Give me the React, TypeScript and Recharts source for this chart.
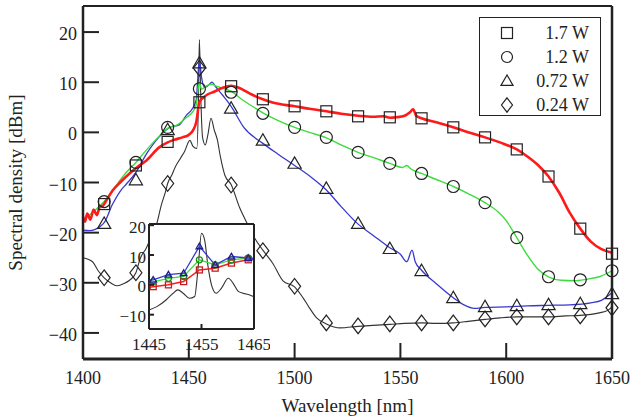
import {
  ComposedChart,
  Line,
  Scatter,
  XAxis,
  YAxis,
  Legend,
  CartesianGrid,
} from 'recharts'

const FONT = '"Liberation Serif", "Times New Roman", Times, serif'
const INK = '#222'

// colours of the four pump powers
const RED = '#ff1a1a'
const GREEN = '#3ddc3d'
const BLUE = '#3838d0'
const BLACK = '#333'

const seriesNames = ['1.7 W', '1.2 W', '0.72 W', '0.24 W']

// ---- main axes
const wlTicks = [1400, 1450, 1500, 1550, 1600, 1650]
const dbmTicks = [-40, -30, -20, -10, 0, 10, 20]

// ---- spectra (wavelength nm / spectral density dBm)
const redWl = [1400, 1401, 1402, 1403.5, 1405, 1406.5, 1408, 1409.5, 1411, 1414, 1418, 1422, 1426, 1430, 1436, 1440, 1443, 1447, 1450, 1452, 1453.5, 1455, 1457, 1459, 1462, 1466, 1470, 1473, 1476, 1480, 1485, 1490, 1495, 1500, 1507, 1515, 1522, 1530, 1537, 1542, 1545, 1548, 1552, 1554.5, 1556, 1557.5, 1560, 1567, 1575, 1582, 1590, 1597, 1605, 1610, 1615, 1620, 1625, 1630, 1635, 1640, 1645, 1650]
const redDbm = [-16.8, -17.8, -16.2, -17.4, -15.4, -16.5, -14.8, -14.6, -13.6, -11.6, -9.8, -8.2, -6.8, -5.6, -3, -2, -1.5, -1, -0.5, 0.4, 2, 6, 7, 7.6, 8.1, 8.9, 9.3, 9, 8.4, 7.5, 6.6, 5.9, 5.5, 5.2, 4.7, 4.2, 3.7, 3.3, 3.1, 3.2, 2.9, 3, 3.3, 4, 4.6, 3.3, 2.8, 2, 1, 0, -1, -2, -3.4, -4.8, -6.5, -8.8, -12, -16, -19.2, -21.8, -23.3, -24]

const greenWl = [1400, 1405, 1410, 1415, 1420, 1425, 1430, 1435, 1440, 1445, 1449, 1452, 1453.5, 1455, 1456, 1457.5, 1459, 1461, 1463, 1466, 1470, 1475, 1480, 1485, 1492, 1500, 1507, 1515, 1522, 1530, 1537, 1545, 1551, 1553, 1555, 1560, 1567, 1575, 1582, 1590, 1596, 1600, 1605, 1610, 1615, 1620, 1626, 1632, 1638, 1644, 1650]
const greenDbm = [-17.5, -15.8, -13.8, -11, -8.2, -6, -3.5, -1.2, 0.8, 1.6, 3, 4.2, 5.5, 10, 8.6, 9, 9.4, 9.6, 9.2, 8.8, 8.2, 6.6, 5.2, 3.9, 2.4, 1, 0, -1.1, -2.5, -4, -5, -6.2, -7, -6.6, -7.3, -8.2, -9.4, -10.8, -12.2, -14, -15.8, -17.6, -21, -24.5, -27.3, -28.8, -29.5, -29.6, -29.3, -28.8, -27.6]

const blueWl = [1400, 1403, 1405.5, 1408, 1410, 1414, 1418, 1420.5, 1425, 1430, 1436, 1441, 1445.5, 1449, 1451.5, 1453.5, 1455, 1456, 1457.5, 1459, 1461, 1462.5, 1466, 1470, 1476, 1485, 1492, 1500, 1508, 1515, 1522, 1530, 1537, 1545, 1550, 1553, 1555.5, 1557, 1560, 1567, 1575, 1580, 1585, 1590, 1600, 1610, 1620, 1630, 1640, 1645, 1650]
const blueDbm = [-19.5, -19.6, -19.4, -18.8, -18, -14.3, -11.5, -10.3, -8, -4.3, -0.9, 1, 1.5, 3.5, 4.6, 6.5, 14.5, 11, 9, 9.3, 10, 9.2, 7.4, 5.2, 1, -2.2, -4.3, -6.6, -9, -11.5, -14.8, -18.3, -20.5, -23, -24.3, -25.8, -23.5, -25.8, -27.5, -30.2, -33, -34.4, -35.1, -34.9, -34.8, -34.6, -34.5, -34.4, -34, -33.5, -32]

const blackWl = [1400, 1404.5, 1407, 1410, 1413, 1416, 1419, 1422, 1425, 1427, 1430, 1432.5, 1435, 1437, 1439, 1440, 1442, 1443.5, 1446, 1448, 1450.5, 1452, 1453.8, 1454.5, 1455, 1455.6, 1456.5, 1457.8, 1459, 1460.5, 1462, 1463.5, 1465, 1467, 1470, 1474, 1478, 1481.3, 1485, 1489.8, 1494.5, 1500, 1504, 1507, 1510.4, 1515, 1521.5, 1530, 1537, 1545, 1552, 1560, 1567, 1575, 1582, 1590, 1597, 1605, 1612, 1620, 1628, 1635, 1644, 1648, 1650]
const blackDbm = [-25, -25.8, -27.5, -29, -30, -30.6, -30.2, -29.5, -28, -25.2, -23, -20.5, -18, -14.5, -11.8, -10.2, -8.5, -7, -5.2, -3.8, -1.6, -2.8, -3.2, 5, 18.5, 8, -1, -2.5, -0.5, 2.8, 0.5, -1.5, -5, -8.5, -10.4, -15, -18.5, -21.2, -23.5, -26.2, -29.6, -30.8, -33, -35, -37, -38.2, -39, -38.7, -38.5, -38.3, -38.1, -38, -38.1, -38, -37.7, -37.3, -37, -36.8, -36.8, -36.8, -36.6, -36.5, -36, -35.5, -34.8]

// ---- marker positions (every 15 nm)
const markWl = [1410, 1425, 1440, 1455, 1470, 1485, 1500, 1515, 1530, 1545, 1560, 1575, 1590, 1605, 1620, 1635, 1650]
const redMarks = [-14.3, -6.6, -1.9, 6, 9.2, 6.6, 5.2, 4.2, 3.2, 3, 2.8, 1, -1, -3.4, -8.8, -19.2, -24.2]
const greenMarks = [-13.8, -6, 1, 8.7, 8, 3.8, 1, -1, -4, -6.2, -8.2, -10.8, -14, -21, -28.8, -29.4, -27.6]
const blueMarks = [-18.2, -9.5, 0.5, 13.8, 4.8, -1.6, -6.2, -11.2, -18.2, -23.2, -27.6, -33, -34.8, -34.6, -34.4, -34.2, -32.2]
const blackMarks = [-29, -28, -10.2, 12.8, -10.5, -23.6, -30.7, -38, -38.6, -38.2, -38, -38, -37.2, -36.8, -36.8, -36.6, -35]

// ---- inset (1445-1465 nm)
const insetWlTicks = [1445, 1455, 1465]
const insetDbmTicks = [-10, 0, 10, 20]
const insetWl = [1445, 1445.8, 1448.7, 1451.6, 1454.6, 1457.6, 1460.7, 1463.9, 1465]
const insetBlue = [1.5, 1.7, 3.4, 3.9, 12.9, 6.7, 9.5, 9, 8.8]
const insetGreen = [0.8, 1, 2.2, 2.8, 8.4, 6.7, 8.4, 9, 9]
const insetRed = [-0.8, -0.6, 0, 1.1, 5, 5.6, 7.3, 8.4, 8.6]
const insetBlackWl = [1445, 1446.5, 1448.3, 1449.6, 1450.5, 1451.5, 1452.7, 1453.7, 1454.4, 1455, 1455.6, 1456.2, 1456.9, 1457.8, 1458.8, 1460.1, 1461, 1462, 1462.9, 1464.2, 1465]
const insetBlackDbm = [-8.4, -7.3, -5, -2.8, -1.7, -2.8, -4.5, -3.9, 6.7, 17.3, 15, 6.7, 0, -2.8, -1.1, 2.2, 0.6, -2.2, -2.8, -3.4, -4]

const zip = (xs: number[], ys: number[]) => xs.map((x, i) => ({ x, y: ys[i] }))

type Shape = 'square' | 'circle' | 'triangle' | 'diamond'

function Marker({ kind, cx, cy, s, stroke, fill = 'none', sw = 1.2 }: {
  kind: Shape; cx: number; cy: number; s: number; stroke: string; fill?: string; sw?: number
}) {
  const h = s / 2
  if (kind === 'square')
    return <rect x={cx - h} y={cy - h} width={s} height={s} stroke={stroke} fill={fill} strokeWidth={sw} />
  if (kind === 'circle')
    return <circle cx={cx} cy={cy} r={h} stroke={stroke} fill={fill} strokeWidth={sw} />
  if (kind === 'triangle')
    return (
      <polygon
        points={`${cx},${cy - h * 1.1} ${cx - h * 1.1},${cy + h * 0.8} ${cx + h * 1.1},${cy + h * 0.8}`}
        stroke={stroke} fill={fill} strokeWidth={sw}
      />
    )
  return (
    <polygon
      points={`${cx},${cy - h * 1.3} ${cx + h},${cy} ${cx},${cy + h * 1.3} ${cx - h},${cy}`}
      stroke={stroke} fill={fill} strokeWidth={sw}
    />
  )
}

const shapes: Shape[] = ['square', 'circle', 'triangle', 'diamond']

const markShape = (kind: Shape, size: number, stroke: string, sw = 1.2) => (p: any) =>
  <Marker kind={kind} cx={p.cx} cy={p.cy} s={size} stroke={stroke} sw={sw} />

// ---- tick renderers: ticks point into the plot
const tickText = { fontFamily: FONT, fontSize: 18, fill: INK }

const bottomTick = (len: number, gap: number, fs: number) => (p: any) => (
  <g>
    <line x1={p.x} x2={p.x} y1={p.y} y2={p.y - len} stroke={INK} strokeWidth={2} />
    <text x={p.x} y={p.y + gap} textAnchor="middle" dominantBaseline="central" {...tickText} fontSize={fs}>
      {p.payload.value}
    </text>
  </g>
)
const leftTick = (len: number, gap: number, fs: number) => (p: any) => (
  <g>
    <line x1={p.x} x2={p.x + len} y1={p.y} y2={p.y} stroke={INK} strokeWidth={2} />
    <text x={p.x - gap} y={p.y + 2} textAnchor="end" dominantBaseline="central" {...tickText} fontSize={fs}>
      {String(p.payload.value).replace('-', '\u2212')}
    </text>
  </g>
)
const topTick = (len: number) => (p: any) =>
  <line x1={p.x} x2={p.x} y1={p.y} y2={p.y + len} stroke={INK} strokeWidth={2} />
const rightTick = (len: number) => (p: any) =>
  <line x1={p.x} x2={p.x - len} y1={p.y} y2={p.y} stroke={INK} strokeWidth={2} />

function LegendBox() {
  return (
    <div
      style={{
        width: 122, height: 99, boxSizing: 'border-box', border: `1.5px solid ${INK}`,
        background: '#fff', paddingTop: 3, fontFamily: FONT, fontSize: 18, color: INK,
      }}
    >
      {seriesNames.map((name, i) => (
        <div key={name} style={{ height: 24, display: 'flex', alignItems: 'center', whiteSpace: 'nowrap' }}>
          <svg width={46} height={24} style={{ flex: 'none' }}>
            <Marker kind={shapes[i]} cx={27} cy={12} s={11} stroke={INK} />
          </svg>
          <span style={{ flex: 1, textAlign: 'right', paddingRight: 11 }}>{name}</span>
        </div>
      ))}
    </div>
  )
}

const insetBlack = zip(insetBlackWl, insetBlackDbm)

function Inset() {
  const inner = (xs: number[]) => xs.slice(1, -1)
  return (
    <div style={{ position: 'absolute', left: 100, top: 214 }}>
      <ComposedChart width={170} height={140} margin={{ top: 0, right: 0, left: 9, bottom: 0 }}>
        <CartesianGrid fill="#fff" stroke="none" />
        <XAxis dataKey="x" type="number" domain={[1445, 1465]} ticks={insetWlTicks} height={25}
          tickSize={0} tickMargin={0} tickLine={false} axisLine={{ stroke: INK, strokeWidth: 2 }}
          tick={bottomTick(5, 15, 17)} />
        <XAxis xAxisId="top" orientation="top" type="number" domain={[1445, 1465]} ticks={[1455]} height={10}
          tickSize={0} tickMargin={0} tickLine={false} axisLine={{ stroke: INK, strokeWidth: 2 }}
          tick={topTick(5)} />
        <YAxis type="number" domain={[-14.8, 20.4]} ticks={insetDbmTicks} width={40}
          tickSize={0} tickMargin={0} tickLine={false} axisLine={{ stroke: INK, strokeWidth: 2 }}
          tick={leftTick(5, 3, 17)} />
        <YAxis yAxisId="right" orientation="right" type="number" domain={[-14.8, 20.4]} ticks={[-10, 0, 10]} width={16}
          tickSize={0} tickMargin={0} tickLine={false} axisLine={{ stroke: INK, strokeWidth: 2 }}
          tick={rightTick(5)} />
        <Line data={insetBlack} dataKey="y" type="monotone" stroke={BLACK} strokeWidth={1.1}
          dot={false} activeDot={false} isAnimationActive={false} />
        <Line data={zip(insetWl, insetRed)} dataKey="y" type="linear" stroke={RED} strokeWidth={1.5}
          dot={false} activeDot={false} isAnimationActive={false} />
        <Line data={zip(insetWl, insetGreen)} dataKey="y" type="linear" stroke={GREEN} strokeWidth={1.3}
          dot={false} activeDot={false} isAnimationActive={false} />
        <Line data={zip(insetWl, insetBlue)} dataKey="y" type="linear" stroke={BLUE} strokeWidth={1.3}
          dot={false} activeDot={false} isAnimationActive={false} />
        <Scatter data={zip(inner(insetWl), inner(insetRed))} dataKey="y"
          shape={markShape('square', 6, '#c02020', 1.3)} isAnimationActive={false} />
        <Scatter data={zip(inner(insetWl), inner(insetGreen))} dataKey="y"
          shape={markShape('circle', 6, '#208a20', 1.3)} isAnimationActive={false} />
        <Scatter data={zip(inner(insetWl), inner(insetBlue))} dataKey="y"
          shape={markShape('triangle', 6, '#1c1c90', 1.3)} isAnimationActive={false} />
      </ComposedChart>
    </div>
  )
}

export default function App() {
  const spectra = [
    { d: zip(blackWl, blackDbm), c: BLACK, w: 1.1 },
    { d: zip(blueWl, blueDbm), c: BLUE, w: 1.3 },
    { d: zip(greenWl, greenDbm), c: GREEN, w: 1.4 },
    { d: zip(redWl, redDbm), c: RED, w: 2.6 },
  ]
  const marks = [
    { d: zip(markWl, redMarks), k: 'square' as Shape, s: 11 },
    { d: zip(markWl, greenMarks), k: 'circle' as Shape, s: 12 },
    { d: zip(markWl, blueMarks), k: 'triangle' as Shape, s: 12 },
    { d: zip(markWl, blackMarks), k: 'diamond' as Shape, s: 12 },
  ]
  return (
    <div style={{ position: 'absolute', left: 0, top: 0, width: 630, height: 420, background: '#fff' }}>
      <ComposedChart width={630} height={420} margin={{ top: 0, right: 0, left: 23, bottom: 0 }}>
        <XAxis dataKey="x" type="number" domain={[1400, 1650]} ticks={wlTicks} height={61}
          tickSize={0} tickMargin={0} tickLine={false} axisLine={{ stroke: INK, strokeWidth: 3 }}
          tick={bottomTick(16, 19, 18)}
          label={{ value: 'Wavelength [nm]', position: 'insideBottom', offset: 8,
            style: { fontFamily: FONT, fontSize: 19, fill: INK } }} />
        <XAxis xAxisId="top" orientation="top" type="number" domain={[1400, 1650]} ticks={wlTicks} height={6}
          tickSize={0} tickMargin={0} tickLine={false} axisLine={{ stroke: INK, strokeWidth: 2 }}
          tick={topTick(16)} />
        <YAxis type="number" domain={[-45.2, 25.2]} ticks={dbmTicks} width={60}
          tickSize={0} tickMargin={0} tickLine={false} axisLine={{ stroke: INK, strokeWidth: 2.5 }}
          tick={leftTick(16, 6, 18)}
          label={{ value: 'Spectral density [dBm]', angle: -90, position: 'insideLeft', offset: -8,
            style: { fontFamily: FONT, fontSize: 19, fill: INK, textAnchor: 'middle' } }} />
        <YAxis yAxisId="right" orientation="right" type="number" domain={[-45.2, 25.2]} ticks={dbmTicks} width={18}
          tickSize={0} tickMargin={0} tickLine={false} axisLine={{ stroke: INK, strokeWidth: 2.5 }}
          tick={rightTick(15)} />
        {spectra.map((l, i) => (
          <Line key={i} data={l.d} dataKey="y" type="monotone" stroke={l.c} strokeWidth={l.w}
            dot={false} activeDot={false} isAnimationActive={false} />
        ))}
        {marks.map((m, i) => (
          <Scatter key={i} data={m.d} dataKey="y" shape={markShape(m.k, m.s, INK)} isAnimationActive={false} />
        ))}
        <Legend layout="vertical" align="center" verticalAlign="middle"
          wrapperStyle={{ left: 479, top: 17, width: 122, height: 99 }}
          content={() => <LegendBox />} />
      </ComposedChart>
      <Inset />
    </div>
  )
}
